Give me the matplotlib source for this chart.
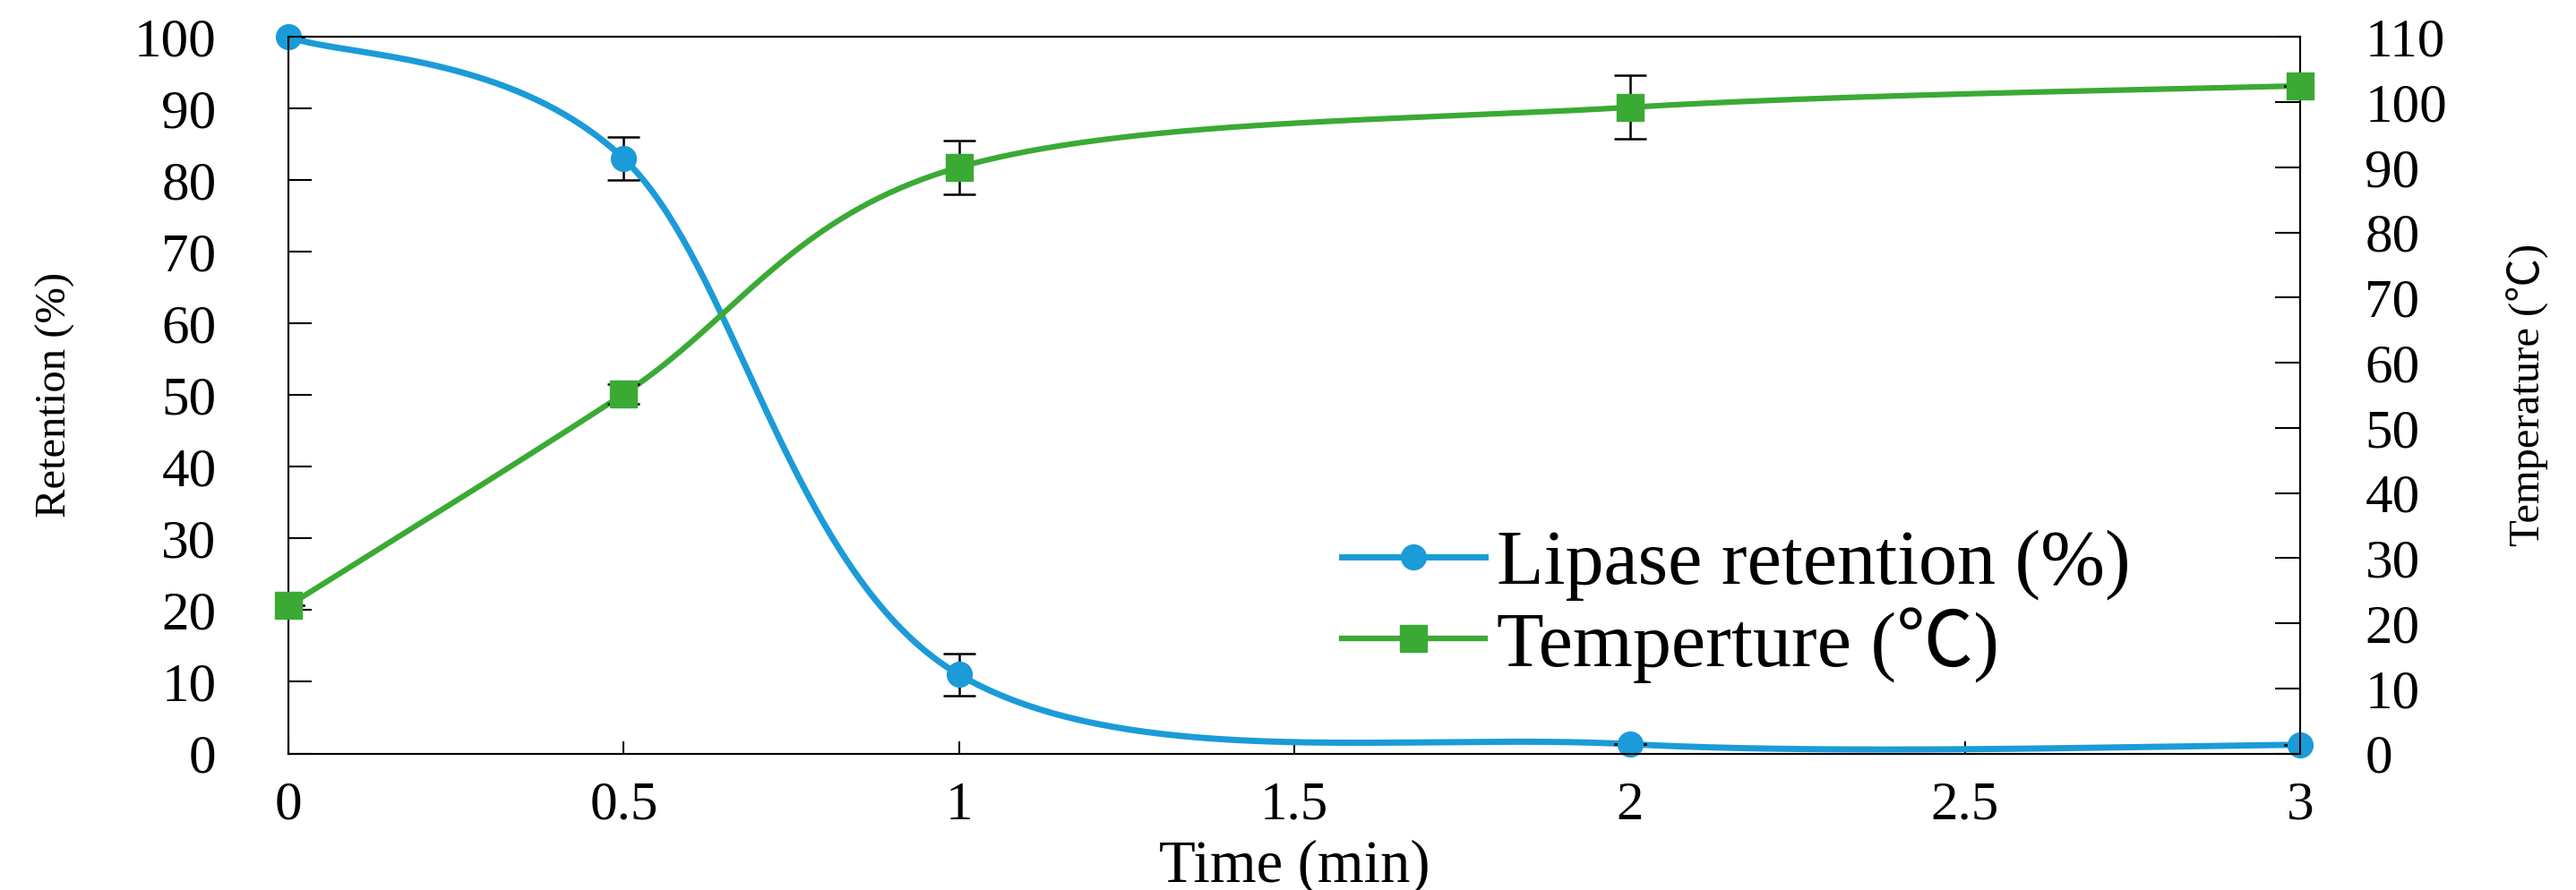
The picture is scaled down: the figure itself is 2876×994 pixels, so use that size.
import matplotlib
matplotlib.use("Agg")
import matplotlib.pyplot as plt
import numpy as np

plt.rcParams['font.family'] = ['Liberation Serif', 'Noto Sans CJK SC', 'DejaVu Sans']

# data
time = [0, 0.5, 1, 2, 3]
retention = [100, 83, 11, 1.3, 1.2]
retention_err = [0, 3, 2.9, 0, 0]
temperature = [22.7, 55.2, 90, 99.2, 102.5]
temperature_err = [0, 1.5, 4.1, 4.9, 0]

x_ticks = [0, 0.5, 1, 1.5, 2, 2.5, 3]
x_tick_labels = ['0', '0.5', '1', '1.5', '2', '2.5', '3']

blue = '#1B9BD8'
green = '#3AAA35'


def smooth(x, y, n=80):
    # excel-like smoothed line: bezier segments with control points from neighbours
    x = np.asarray(x, float)
    y = np.asarray(y, float)
    p = np.column_stack([np.r_[x[0], x, x[-1]], np.r_[y[0], y, y[-1]]])
    t = np.linspace(0, 1, n)[:, None]
    segs = []
    for i in range(1, len(p) - 2):
        c1 = p[i] + (p[i + 1] - p[i - 1]) / 6
        c2 = p[i + 1] - (p[i + 2] - p[i]) / 6
        segs.append((1 - t) ** 3 * p[i] + 3 * (1 - t) ** 2 * t * c1
                    + 3 * (1 - t) * t ** 2 * c2 + t ** 3 * p[i + 1])
    s = np.vstack(segs)
    return s[:, 0], s[:, 1]


fig = plt.figure(figsize=(28.76, 9.94), dpi=100)
ax = fig.add_axes([0.112, 0.1534, 0.781, 0.8051])
ax2 = ax.twinx()

# retention (left axis)
sx, sy = smooth(time, retention)
ax.plot(sx, sy, color=blue, lw=5, solid_capstyle='round', zorder=2, clip_on=False)
ax.errorbar(time, retention, yerr=retention_err, fmt='none', ecolor='black',
            elinewidth=1.8, capsize=13, capthick=1.8, zorder=3)
ax.plot(time, retention, 'o', color=blue, ms=20, zorder=4, clip_on=False)

# temperature (right axis)
tx, ty = smooth(time, temperature)
ax2.plot(tx, ty, color=green, lw=4.5, zorder=2, clip_on=False)
ax2.errorbar(time, temperature, yerr=temperature_err, fmt='none', ecolor='black',
             elinewidth=1.8, capsize=13, capthick=1.8, zorder=3)
ax2.plot(time, temperature, 's', color=green, ms=21, zorder=4, clip_on=False)

ax.set_xlim(0, 3)
ax.set_ylim(0, 100)
ax2.set_ylim(0, 110)
ax.set_xticks(x_ticks)
ax.set_xticklabels(x_tick_labels)
ax.set_yticks(np.arange(0, 101, 10))
ax2.set_yticks(np.arange(0, 111, 10))

ax.tick_params(axis='y', direction='in', length=19, width=1.5, labelsize=44, pad=58)
ax.tick_params(axis='x', direction='in', length=10, width=1.5, labelsize=44, pad=22)
ax2.tick_params(axis='y', direction='in', length=20, width=1.5, labelsize=44, pad=52)

for a in (ax, ax2):
    for sp in a.spines.values():
        sp.set_linewidth(1.5)
        sp.set_color('black')

ax.set_xlabel('Time (min)', fontsize=48)
ax.xaxis.set_label_coords(0.5, -0.12)
ax.set_ylabel('Retention (%)', fontsize=35, va='center')
ax.yaxis.set_label_coords(-0.116, 0.5)
ax2.set_ylabel('Temperature (℃)', fontsize=35, va='center', rotation=90)
ax2.yaxis.set_label_coords(1.113, 0.5)

h1 = plt.Line2D([], [], color=blue, lw=5, marker='o', ms=20)
h2 = plt.Line2D([], [], color=green, lw=4.5, marker='s', ms=21)
fig.legend([h1, h2], ['Lipase retention (%)', 'Temperture (℃)'],
           loc='upper left', bbox_to_anchor=(0.521, 0.405), fontsize=62,
           frameon=False, handlelength=1.85, handletextpad=0.16,
           labelspacing=0.08, borderpad=0, borderaxespad=0)

fig.savefig('out.png', dpi=100)
